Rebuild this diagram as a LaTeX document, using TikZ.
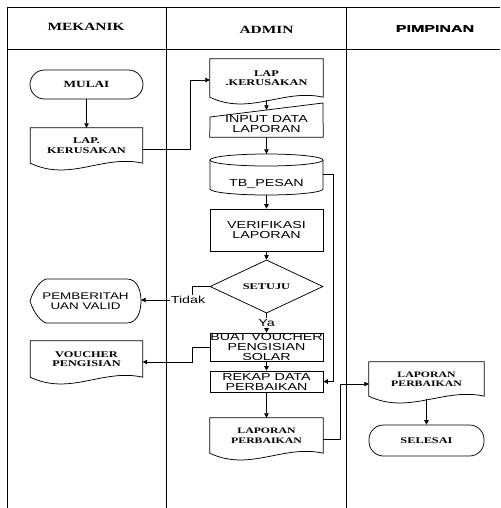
\documentclass[tikz,border=0pt]{standalone}
\usepackage{fontspec}
\usetikzlibrary{arrows.meta,shapes.geometric,calc}
\newfontfamily\sbf{Liberation Serif Bold}[FakeStretch=1.4]
\newfontfamily\ssf{Liberation Sans}[FakeStretch=1.4]
\newfontfamily\hsf{Liberation Sans Bold}[FakeStretch=1.6,FakeBold=1.2]
\newcommand\docpath[1]{\draw[ln] (#1.south east) .. controls +(-40,-9) and +(40,19) .. (#1.south west) -- (#1.north west) -- (#1.north east) -- cycle;}
\begin{document}
\begin{tikzpicture}[x=1pt,y=-1pt,
  ln/.style={line width=0.75pt,black},
  arr/.style={ln,-{Triangle[length=4.5pt,width=4.5pt]}},
  serift/.style={font={\sbf\fontsize{8.8}{9.5}\selectfont},align=center},
  sanst/.style={font={\ssf\fontsize{10.2}{10}\selectfont},align=center},
  shape box/.style={rectangle,inner sep=0pt},
  procbox/.style={shape box,ln,draw},
  termbox/.style={shape box,ln,draw,rounded corners=14.5pt},
  docbox/.style={shape box}]
\fill[white] (0,0) rectangle (500,508);
\useasboundingbox (0,0) rectangle (500,508);
% swimlanes
\draw[ln] (7,508) -- (7,7) -- (500,7);
\draw[ln] (7,49) -- (500,49);
\draw[ln] (166,7) -- (166,508);
\draw[ln] (346,7) -- (346,508);
\node[font={\sbf\fontsize{11}{12}\selectfont}] (h1) at (86,27) {MEKANIK};
\node[font={\sbf\fontsize{11}{12}\selectfont}] (h2) at (266.5,29.5) {ADMIN};
\node[font={\hsf\fontsize{10}{12}\selectfont}] (h3) at (435,28.5) {PIMPINAN};
% mekanik
\node[termbox,serift,minimum width=113pt,minimum height=29pt,font={\sbf\fontsize{9.5}{10}\selectfont}] (mulai) at (86.5,84.5) {MULAI};
\node[docbox,serift,minimum width=112pt,minimum height=35pt] (lapk1) at (86.5,145.5) {LAP.\\KERUSAKAN};
\docpath{lapk1}
\node[docbox,sanst,minimum width=111pt,minimum height=44pt,font={\ssf\fontsize{9.6}{10}\selectfont}] (pember) at (85.5,301) {PEMBERITAH\\UAN VALID};
\draw[ln] (46,279) -- (127,279) .. controls (137,279) and (141,290) .. (141,301) .. controls (141,312) and (137,323) .. (127,323) -- (46,323) .. controls (38,320) and (32,308) .. (30,301) .. controls (32,294) and (38,282) .. (46,279) -- cycle;
\node[docbox,serift,minimum width=112pt,minimum height=36pt] (voucher) at (86.5,359) {VOUCHER\\PENGISIAN};
\docpath{voucher}
% admin
\node[docbox,serift,minimum width=113pt,minimum height=38pt] (lapk2) at (266.5,78) {LAP\\.KERUSAKAN};
\docpath{lapk2}
\node[docbox,sanst,minimum width=113pt,minimum height=25pt] (input) at (266.5,124.5) {INPUT DATA\\LAPORAN};
\draw[ln] (input.south west) -- (210,117) -- (323,103) -- (input.south east) -- cycle;
\node[docbox,minimum width=113pt,minimum height=41pt] (tb) at (266.5,174.5) {};
\node[sanst] (tblabel) at (266.5,184) {TB\_PESAN};
\draw[ln] (266.5,160) ellipse [x radius=56.5pt,y radius=6pt];
\draw[ln] (210,160) -- (210,189) arc[start angle=180,end angle=360,x radius=56.5pt,y radius=6pt] -- (323,160);
\node[procbox,sanst,minimum width=113pt,minimum height=42pt] (verif) at (266.5,230) {VERIFIKASI\\LAPORAN};
\node[diamond,ln,draw,inner sep=0pt,minimum width=113pt,minimum height=41pt,serift] (setuju) at (266.5,286.5) {SETUJU};
\node[procbox,sanst,minimum width=113pt,minimum height=28pt] (buat) at (266.5,347) {BUAT VOUCHER\\PENGISIAN\\SOLAR};
\node[procbox,sanst,minimum width=113pt,minimum height=21pt] (rekap) at (266.5,381.5) {REKAP DATA\\PERBAIKAN};
\node[docbox,serift,minimum width=113pt,minimum height=35pt,font={\sbf\fontsize{8.4}{9.5}\selectfont}] (lapper1) at (266.5,435.5) {LAPORAN\\PERBAIKAN};
\docpath{lapper1}
% pimpinan
\node[docbox,serift,minimum width=115pt,minimum height=34pt,font={\sbf\fontsize{8.4}{9.5}\selectfont}] (lapper2) at (426.5,379) {LAPORAN\\PERBAIKAN};
\docpath{lapper2}
\node[termbox,minimum width=115pt,minimum height=31pt,serift] (selesai) at (426.5,440.5) {SELESAI};
% connectors
\draw[arr] (mulai.south) -- (lapk1.north);
\draw[arr] ([yshift=-3.5pt]lapk1.east) -- ++(48,0) |- ([yshift=-2pt]lapk2.west);
\draw[arr] ([yshift=-3pt]lapk2.south) -- ([yshift=2pt]input.north);
\draw[arr] (input.south) -- (tb.north);
\draw[arr] (tb.south) -- (verif.north);
\draw[arr] (verif.south) -- (setuju.north);
\draw[arr] (setuju.west) -- ++(-17,0) |- ([yshift=1pt]pember.east);
\node[sanst,fill=white,inner sep=1pt] (tidak) at (188,300) {Tidak};
\draw[arr] (setuju.south) -- node[sanst,fill=white,inner sep=1pt] (ya) {Ya} (buat.north);
\draw[arr] (buat.west) -- ++(-17,0) |- ([yshift=-3pt]voucher.east);
\draw[arr] (buat.south) -- (rekap.north);
\draw[arr] (tb.east) -- ++(10,0) |- (rekap.east);
\draw[arr] (rekap.south) -- (lapper1.north);
\draw[arr] ([yshift=-4pt]lapper1.east) -- ++(17,0) |- ([yshift=-5pt]lapper2.west);
\draw[arr] ([yshift=-3pt]lapper2.south) -- (selesai.north);
\end{tikzpicture}
\end{document}
